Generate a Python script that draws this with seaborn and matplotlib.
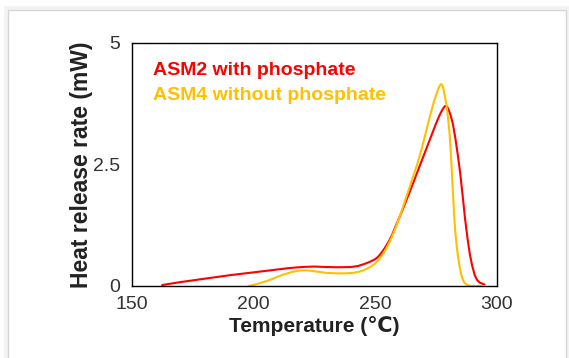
import numpy as np
import pandas as pd
import matplotlib
matplotlib.use("Agg")
import matplotlib.pyplot as plt
from matplotlib.patches import Rectangle
import seaborn as sns

# ---- data ----
asm2_temp = [162.5, 170, 180, 190, 200, 210, 215, 220, 225, 230, 235, 240, 243, 246, 248,
             250, 251, 252, 253, 254, 255, 256, 257, 258, 259, 260, 261, 262, 263, 264, 265,
             266, 267, 268, 269, 270, 271, 272, 273, 274, 275, 276, 277, 278, 278.8, 279.5,
             280, 281, 282, 283, 284, 285, 286, 287, 288, 289, 290, 291, 292, 293, 294, 295]
asm2_rate = [0.02, 0.08, 0.15, 0.22, 0.28, 0.34, 0.37, 0.39, 0.40, 0.39, 0.385, 0.39, 0.41, 0.46, 0.50,
             0.55, 0.59, 0.64, 0.71, 0.78, 0.86, 0.95, 1.05, 1.17, 1.29, 1.41, 1.53, 1.65, 1.78, 1.90, 2.03,
             2.16, 2.29, 2.42, 2.55, 2.68, 2.81, 2.94, 3.07, 3.20, 3.33, 3.45, 3.56, 3.65, 3.70, 3.69,
             3.65, 3.52, 3.33, 3.04, 2.70, 2.32, 1.86, 1.38, 0.98, 0.64, 0.40, 0.22, 0.12, 0.07, 0.05, 0.03]

asm4_temp = [198, 200, 202, 204, 206, 208, 210, 212, 214, 216, 218, 220, 222, 224, 227, 230,
             234, 238, 241, 244, 246, 248, 250, 251, 252, 253, 254, 255, 256, 257, 258, 259,
             260, 261, 262, 263, 264, 265, 266, 267, 268, 269, 270, 271, 272, 273, 274, 275,
             276, 276.6, 277.1, 277.6, 278.2, 278.8, 279.4, 280, 280.6, 281.2, 281.8, 282.4,
             283, 283.6, 284.2, 284.8, 285.4, 286, 286.8, 287.6, 288.5, 289.5, 294]
asm4_rate = [0.0, 0.02, 0.05, 0.08, 0.11, 0.15, 0.19, 0.23, 0.26, 0.29, 0.31, 0.32, 0.32, 0.31, 0.29, 0.27,
             0.26, 0.26, 0.27, 0.30, 0.34, 0.39, 0.46, 0.51, 0.57, 0.64, 0.72, 0.81, 0.91, 1.02, 1.14, 1.27,
             1.41, 1.55, 1.70, 1.85, 2.00, 2.15, 2.30, 2.45, 2.61, 2.79, 2.98, 3.18, 3.38, 3.57, 3.75, 3.91,
             4.05, 4.12, 4.15, 4.13, 4.03, 3.88, 3.70, 3.45, 3.15, 2.70, 2.12, 1.55,
             1.10, 0.80, 0.58, 0.38, 0.24, 0.14, 0.06, 0.03, 0.01, 0.0, 0.0]

series_names = ["ASM2 with phosphate", "ASM4 without phosphate"]
series_colors = ["#ff0000", "#ffc000"]
x_ticks = [150, 200, 250, 300]
y_ticks = [0, 2.5, 5]
y_tick_labels = ["0", "2.5", "5"]

df = pd.concat([
    pd.DataFrame({"T": asm2_temp, "Q": asm2_rate, "s": series_names[0]}),
    pd.DataFrame({"T": asm4_temp, "Q": asm4_rate, "s": series_names[1]}),
])

sns.set_style("white")
plt.rcParams["font.family"] = ["Liberation Sans", "DejaVu Sans"]

fig = plt.figure(figsize=(5.69, 3.58), dpi=100)
fig.patch.set_facecolor("white")

# card frame with light shadow
fig.patches.append(Rectangle((4 / 569, -0.1), 565 / 569, (358 - 6) / 358 + 0.1,
                             transform=fig.transFigure, facecolor="#f3f3f3",
                             edgecolor="none", zorder=-3))
fig.patches.append(Rectangle((8 / 569, -0.1), 558 / 569, (358 - 10) / 358 + 0.1,
                             transform=fig.transFigure, facecolor="white",
                             edgecolor="#d6d6d6", linewidth=1.0, zorder=-2))

ax = fig.add_axes([131.7 / 569, 1 - 286 / 358, 365 / 569, 243.3 / 358])
sns.lineplot(data=df, x="T", y="Q", hue="s", palette=series_colors,
             hue_order=series_names, sort=False, estimator=None,
             linewidth=1.5, legend=False, ax=ax)

ax.set_xlim(150, 300)
ax.set_ylim(0, 5)
ax.set_xticks(x_ticks)
ax.set_yticks(y_ticks)
ax.set_yticklabels(y_tick_labels)
for sp in ax.spines.values():
    sp.set_color("black")
    sp.set_linewidth(1.0)
ax.tick_params(axis="both", direction="in", length=5, width=1, color="black",
               labelsize=14, labelcolor="#333333")
ax.tick_params(axis="x", pad=7)
ax.tick_params(axis="y", pad=8)

ax.set_xlabel("Temperature (℃)", fontsize=15, fontweight="bold", color="#222222", labelpad=2)
ax.set_ylabel("Heat release rate (mW)", fontsize=16.5, fontweight="bold", color="#222222", labelpad=0)

ax.text(0.059, 0.867, series_names[0], transform=ax.transAxes, color=series_colors[0],
        fontsize=14, fontweight="bold", ha="left", va="baseline")
ax.text(0.059, 0.764, series_names[1], transform=ax.transAxes, color=series_colors[1],
        fontsize=14, fontweight="bold", ha="left", va="baseline")

fig.savefig("out.png", dpi=100)
